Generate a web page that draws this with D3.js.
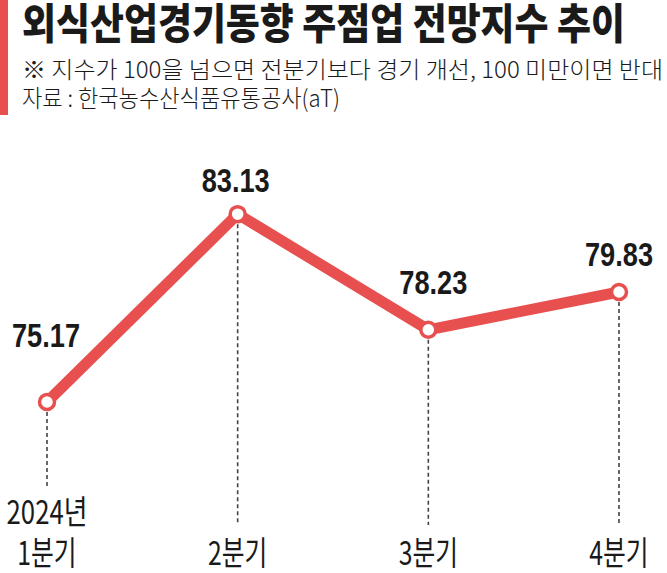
<!DOCTYPE html>
<html>
<head>
<meta charset="utf-8">
<script src="https://cdn.jsdelivr.net/npm/d3@7"></script>
<style>
  html, body { margin: 0; padding: 0; background: #fff; }
  svg { display: block; }
</style>
</head>
<body>
<div id="chart"></div>
<script>
const quarters = ['1분기', '2분기', '3분기', '4분기']
const years = ['2024년', '', '', '']
const values = [75.17, 83.13, 78.23, 79.83]
const valueLabels = ['75.17', '83.13', '78.23', '79.83']

const title = '외식산업경기동향 주점업 전망지수 추이'
const note = '※ 지수가 100을 넘으면 전분기보다 경기 개선, 100 미만이면 반대'
const source = '자료 : 한국농수산식품유통공사(aT)'

const width = 667
const height = 573
const red = '#e8504f'
const kr = '"Noto Sans CJK KR", "Noto Sans", sans-serif'
const num = '"Liberation Sans", Arial, sans-serif'

// label offsets above each point, and per-label horizontal nudge
const labelLift = [55, 22, 36, 26]
const labelShift = [-1, -2, 5, 0]

const svg = d3.select('#chart').append('svg')
  .attr('width', width)
  .attr('height', height)

// squeeze text horizontally, mimics the condensed typeface
function squeeze (sel, k) {
  sel.each(function () {
    const w = this.getComputedTextLength()
    d3.select(this).attr('textLength', w * k).attr('lengthAdjust', 'spacingAndGlyphs')
  })
}

// header
svg.append('rect')
  .attr('x', 0).attr('y', 0)
  .attr('width', 8).attr('height', 115)
  .style('fill', red)

svg.append('text')
  .attr('x', 22).attr('y', 39)
  .attr('textLength', 603).attr('lengthAdjust', 'spacingAndGlyphs')
  .style('font-family', kr).style('font-weight', 900).style('font-size', '42px')
  .style('fill', '#1a1a1a')
  .text(title)

svg.append('text')
  .attr('x', 22).attr('y', 78)
  .attr('textLength', 641).attr('lengthAdjust', 'spacingAndGlyphs')
  .style('font-family', kr).style('font-weight', 300).style('font-size', '23px')
  .style('fill', '#1a1a1a')
  .text(note)

svg.append('text')
  .attr('x', 22).attr('y', 107)
  .attr('textLength', 318).attr('lengthAdjust', 'spacingAndGlyphs')
  .style('font-family', kr).style('font-weight', 300).style('font-size', '24px')
  .style('fill', '#1a1a1a')
  .text(source)

// scales
const x = d3.scalePoint()
  .domain(quarters)
  .range([47, 619])

const y = d3.scaleLinear()
  .domain([70, 90])
  .range([524, 52])

const points = quarters.map((q, i) => ({ q, v: values[i], label: valueLabels[i], year: years[i], i }))

// dashed guides
svg.selectAll('.guide')
  .data(points)
  .enter().append('line')
    .attr('class', 'guide')
    .attr('x1', d => x(d.q))
    .attr('x2', d => x(d.q))
    .attr('y1', d => y(d.v) + 10)
    .attr('y2', d => d.year ? 488 : 525)
    .style('stroke', '#444')
    .style('stroke-width', 1.6)
    .style('stroke-dasharray', '4,3')

// line
const line = d3.line()
  .x(d => x(d.q))
  .y(d => y(d.v))

svg.append('path')
  .datum(points)
  .attr('d', line)
  .style('fill', 'none')
  .style('stroke', red)
  .style('stroke-width', 11)
  .style('stroke-linejoin', 'round')

svg.selectAll('.dot')
  .data(points)
  .enter().append('circle')
    .attr('class', 'dot')
    .attr('cx', d => x(d.q))
    .attr('cy', d => y(d.v))
    .attr('r', 7.5)
    .style('fill', '#fff')
    .style('stroke', red)
    .style('stroke-width', 3.5)

// value labels
svg.selectAll('.value')
  .data(points)
  .enter().append('text')
    .attr('class', 'value')
    .attr('x', d => x(d.q) + labelShift[d.i])
    .attr('y', d => y(d.v) - labelLift[d.i])
    .attr('text-anchor', 'middle')
    .style('font-family', num).style('font-weight', 700).style('font-size', '34px')
    .style('fill', '#1a1a1a')
    .text(d => d.label)
    .call(squeeze, 0.8)

// category labels
svg.selectAll('.year')
  .data(points.filter(d => d.year))
  .enter().append('text')
    .attr('class', 'year')
    .attr('x', d => x(d.q))
    .attr('y', 524)
    .attr('text-anchor', 'middle')
    .style('font-family', kr).style('font-weight', 400).style('font-size', '33px')
    .style('fill', '#1a1a1a')
    .text(d => d.year)
    .call(squeeze, 0.78)

svg.selectAll('.quarter')
  .data(points)
  .enter().append('text')
    .attr('class', 'quarter')
    .attr('x', d => x(d.q))
    .attr('y', 565)
    .attr('text-anchor', 'middle')
    .style('font-family', kr).style('font-weight', 400).style('font-size', '33px')
    .style('fill', '#1a1a1a')
    .text(d => d.q)
    .call(squeeze, 0.75)
</script>
</body>
</html>
